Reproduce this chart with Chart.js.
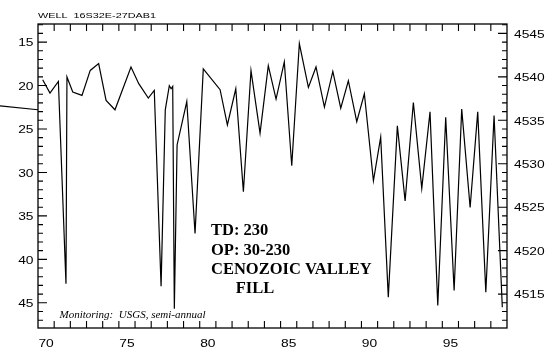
<!DOCTYPE html>
<html><head><meta charset="utf-8">
<script src="https://cdn.jsdelivr.net/npm/chart.js@4.4.0/dist/chart.umd.min.js"></script>
<style>html,body{margin:0;padding:0;background:#fff}#wrap{width:556px;height:360px}</style>
</head><body><div id="wrap"><canvas id="c" width="556" height="360"></canvas></div>
<script>
// ---- data (decimal years since 1900, depth to water in feet) ----
const years = [69.79,70.24,70.76,71.23,71.29,71.65,72.22,72.73,73.25,73.71,74.26,75.25,75.73,76.32,76.69,77.11,77.37,77.62,77.73,77.83,77.93,78.10,78.70,79.21,79.72,80.76,81.21,81.73,82.20,82.67,83.23,83.74,84.22,84.73,85.19,85.66,86.22,86.69,87.21,87.73,88.22,88.69,89.21,89.68,90.24,90.69,91.16,91.72,92.20,92.71,93.23,93.74,94.22,94.71,95.23,95.70,96.22,96.69,97.19,97.70,98.21];
const depths = [19.33,20.87,19.53,42.81,19.02,20.75,21.14,18.26,17.48,21.72,22.79,17.86,19.79,21.44,20.57,43.08,22.79,20.02,20.37,20.10,45.69,26.84,21.84,37.03,18.09,20.48,24.53,20.37,32.23,18.29,25.48,17.71,21.56,17.29,29.23,15.17,20.22,17.86,22.48,18.37,22.60,19.45,24.15,20.95,30.96,25.95,44.35,24.64,33.27,21.95,31.84,23.03,45.31,23.64,43.58,22.71,34.03,23.03,43.78,23.45,45.51];
const leadYears = [67.15, 69.5];
const leadDepths = [22.33, 22.79];
const xTickLabels = [70, 75, 80, 85, 90, 95];
const depthTickLabels = [15, 20, 25, 30, 35, 40, 45];
const elevTickLabels = [4515, 4520, 4525, 4530, 4535, 4540, 4545];
const datumElev = 4559;
const titleText = 'WELL  16S32E-27DAB1';
const noteText = 'Monitoring:  USGS, semi-annual';
const boxLines = ['TD: 230', 'OP: 30-230', 'CENOZOIC VALLEY', '      FILL'];

const X_MIN = 69.5, X_MAX = 98.5, D_MIN = 12.92, D_MAX = 47.9;

function stretchText(ctx, txt, x, y, sx, align) {
  ctx.save();
  const w = ctx.measureText(txt).width * sx;
  let x0 = x;
  if (align === 'right') x0 = x - w;
  else if (align === 'center') x0 = x - w / 2;
  ctx.translate(x0, y);
  ctx.scale(sx, 1);
  ctx.textAlign = 'left';
  ctx.fillText(txt, 0, 0);
  ctx.restore();
}

const decor = {
  id: 'decor',
  afterDraw(chart) {
    const ctx = chart.ctx;
    const a = chart.chartArea;
    const sx = chart.scales.x, sy = chart.scales.y, sy2 = chart.scales.y2;
    ctx.save();
    ctx.strokeStyle = '#000';
    ctx.fillStyle = '#000';
    ctx.lineWidth = 1.3;
    ctx.strokeRect(a.left, a.top, a.right - a.left, a.bottom - a.top);
    ctx.lineWidth = 1.1;
    ctx.beginPath();
    // left depth ticks
    for (let d = Math.ceil(D_MIN); d <= Math.floor(D_MAX); d++) {
      const py = sy.getPixelForValue(d);
      const len = d % 5 === 0 ? 9 : 5;
      ctx.moveTo(a.left, py); ctx.lineTo(a.left + len, py);
    }
    // right elevation ticks
    for (let e = Math.ceil(datumElev - D_MAX); e <= Math.floor(datumElev - D_MIN); e++) {
      const py = sy2.getPixelForValue(e);
      const len = e % 5 === 0 ? 9 : 5;
      ctx.moveTo(a.right, py); ctx.lineTo(a.right - len, py);
    }
    // top / bottom year ticks
    for (let yr = X_MIN + 1; yr < X_MAX; yr += 1) {
      const px = sx.getPixelForValue(yr);
      ctx.moveTo(px, a.top); ctx.lineTo(px, a.top + 7);
      ctx.moveTo(px, a.bottom); ctx.lineTo(px, a.bottom - 7);
    }
    ctx.stroke();

    // tick labels
    ctx.font = '11.5px "Liberation Sans", Arial, sans-serif';
    ctx.textBaseline = 'alphabetic';
    depthTickLabels.forEach(v => stretchText(ctx, String(v), a.left - 4.5, sy.getPixelForValue(v) + 4.3, 1.2, 'right'));
    elevTickLabels.forEach(v => stretchText(ctx, String(v), a.right + 7, sy2.getPixelForValue(v) + 4.3, 1.2, 'left'));
    xTickLabels.forEach(v => stretchText(ctx, String(v), sx.getPixelForValue(v), a.bottom + 19, 1.2, 'center'));

    // title
    ctx.font = '8px "Liberation Sans", Arial, sans-serif';
    const tw = ctx.measureText(titleText).width;
    stretchText(ctx, titleText, a.left, 18.3, 118 / tw, 'left');

    // note
    ctx.font = 'italic 11px "Liberation Serif", "Times New Roman", serif';
    ctx.textAlign = 'left';
    ctx.fillText(noteText, 59.5, 317.7);

    // info box text
    ctx.font = 'bold 16.5px "Liberation Serif", "Times New Roman", serif';
    const bases = [235, 254.5, 274, 293];
    boxLines.forEach((t, i) => ctx.fillText(t, 211, bases[i]));
    ctx.restore();
  }
};

new Chart(document.getElementById('c'), {
  type: 'line',
  data: {
    datasets: [
      {
        data: years.map((x, i) => ({ x, y: depths[i] })),
        borderColor: '#000', borderWidth: 1.2, pointRadius: 0, tension: 0, fill: false
      },
      {
        data: leadYears.map((x, i) => ({ x, y: leadDepths[i] })),
        borderColor: '#000', borderWidth: 1.2, pointRadius: 0, tension: 0, fill: false, clip: false
      }
    ]
  },
  options: {
    responsive: false,
    animation: false,
    devicePixelRatio: 1,
    layout: { padding: { left: 38, right: 49, top: 24, bottom: 32 } },
    plugins: { legend: { display: false }, tooltip: { enabled: false }, title: { display: false } },
    scales: {
      x: { type: 'linear', min: X_MIN, max: X_MAX, display: false },
      y: { type: 'linear', min: D_MIN, max: D_MAX, reverse: true, display: false },
      y2: { type: 'linear', position: 'right', min: datumElev - D_MAX, max: datumElev - D_MIN, display: false }
    }
  },
  plugins: [decor]
});
</script>
</body></html>
